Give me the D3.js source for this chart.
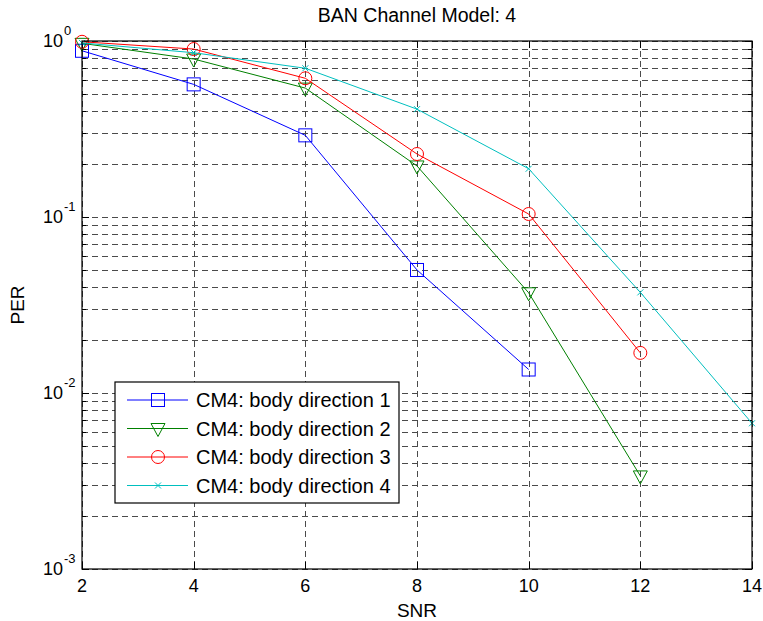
<!DOCTYPE html>
<html>
<head>
<meta charset="utf-8">
<script src="https://cdn.jsdelivr.net/npm/d3@7"></script>
<style>
  body { margin: 0; background: #fff; }
  text { font-family: "Liberation Sans", Arial, sans-serif; fill: #000; }
</style>
</head>
<body>
<script>
// data
let snr = [2, 4, 6, 8, 10, 12, 14];
let dir1 = [0.88, 0.567, 0.291, 0.050, 0.0136];
let dir2 = [0.97, 0.79, 0.54, 0.195, 0.0371, 0.00338];
let dir3 = [0.99, 0.90, 0.614, 0.228, 0.104, 0.0169];
let dir4 = [0.975, 0.858, 0.70, 0.41, 0.188, 0.0373, 0.00673];
let names = ['CM4: body direction 1', 'CM4: body direction 2', 'CM4: body direction 3', 'CM4: body direction 4'];
let xTicks = [2, 4, 6, 8, 10, 12, 14];
let yDecades = [-3, -2, -1, 0];

let width = 763, height = 621;
let margin = { top: 41, right: 11, bottom: 52, left: 82 };
let w = width - margin.left - margin.right;
let h = height - margin.top - margin.bottom;

let series = [
  { name: names[0], values: dir1, color: '#0000ff', marker: 'square' },
  { name: names[1], values: dir2, color: '#008000', marker: 'tri' },
  { name: names[2], values: dir3, color: '#ff0000', marker: 'circle' },
  { name: names[3], values: dir4, color: '#00bfbf', marker: 'cross' }
];

let svg = d3.select('body').append('svg')
    .attr('width', width)
    .attr('height', height)
  .append('g')
    .attr('transform', 'translate(' + margin.left + ',' + margin.top + ')');

let x = d3.scaleLinear().domain([2, 14]).range([0, w]);
let y = d3.scaleLog().domain([1e-3, 1]).range([h, 0]);

// grid values: 1..9 in every decade, plus the top one
let gridVals = [];
yDecades.slice(0, -1).forEach(function(k) {
  for (let m = 1; m <= 9; m++) gridVals.push(m * Math.pow(10, k));
});
gridVals.push(1);

let grid = svg.append('g').attr('class', 'grid')
    .attr('stroke', '#4a4a4a')
    .attr('stroke-width', 1)
    .attr('stroke-dasharray', '6,4')
    .attr('shape-rendering', 'crispEdges');

grid.selectAll('.hg').data(gridVals).enter().append('line')
    .attr('x1', 0).attr('x2', w)
    .attr('y1', function(d) { return Math.round(y(d)) + 0.5; })
    .attr('y2', function(d) { return Math.round(y(d)) + 0.5; });

grid.selectAll('.vg').data(xTicks).enter().append('line')
    .attr('y1', 0).attr('y2', h)
    .attr('x1', function(d) { return Math.round(x(d)) + 0.5; })
    .attr('x2', function(d) { return Math.round(x(d)) + 0.5; });

// ticks inside the box
let ticks = svg.append('g').attr('stroke', '#000').attr('stroke-width', 1)
    .attr('shape-rendering', 'crispEdges');
xTicks.forEach(function(d) {
  let px = Math.round(x(d)) + 0.5;
  ticks.append('line').attr('x1', px).attr('x2', px).attr('y1', h).attr('y2', h - 7);
  ticks.append('line').attr('x1', px).attr('x2', px).attr('y1', 0).attr('y2', 7);
});
gridVals.forEach(function(d) {
  let py = Math.round(y(d)) + 0.5;
  let major = Math.abs(Math.log10(d) - Math.round(Math.log10(d))) < 1e-9;
  let len = major ? 7 : 4;
  ticks.append('line').attr('x1', 0).attr('x2', len).attr('y1', py).attr('y2', py);
  ticks.append('line').attr('x1', w).attr('x2', w - len).attr('y1', py).attr('y2', py);
});

// x tick labels
svg.selectAll('.xl').data(xTicks).enter().append('text')
    .attr('x', function(d) { return x(d); })
    .attr('y', h + 23)
    .attr('text-anchor', 'middle')
    .style('font-size', '18px')
    .text(function(d) { return d; });

// y tick labels 10^k
let yl = svg.selectAll('.yl').data(yDecades).enter().append('g')
    .attr('transform', function(d) { return 'translate(0,' + y(Math.pow(10, d)) + ')'; });
yl.append('text')
    .attr('x', -19).attr('y', 6)
    .attr('text-anchor', 'end')
    .style('font-size', '18px')
    .text('10');
yl.append('text')
    .attr('x', -18).attr('y', -6)
    .style('font-size', '13px')
    .text(function(d) { return d; });

// lines and markers
let line = d3.line()
  .x(function(d, i) { return x(snr[i]); })
  .y(function(d) { return y(d); });

function drawMarker(g, type, color) {
  if (type === 'square') {
    g.append('rect').attr('x', -6.5).attr('y', -6.5).attr('width', 13).attr('height', 13)
      .attr('fill', 'none').attr('stroke', color);
  } else if (type === 'circle') {
    g.append('circle').attr('r', 6.5).attr('fill', 'none').attr('stroke', color);
  } else if (type === 'tri') {
    g.append('path').attr('d', 'M-7,-5L7,-5L0,8Z').attr('fill', 'none').attr('stroke', color);
  } else {
    g.append('path').attr('d', 'M-3,-3L3,3M-3,3L3,-3').attr('fill', 'none').attr('stroke', color);
  }
}

series.forEach(function(s) {
  svg.append('path')
      .datum(s.values)
      .attr('fill', 'none')
      .attr('stroke', s.color)
      .attr('stroke-width', 1)
      .attr('d', line);
  s.values.forEach(function(v, i) {
    let g = svg.append('g').attr('transform', 'translate(' + x(snr[i]) + ',' + y(v) + ')');
    drawMarker(g, s.marker, s.color);
  });
});

// box
svg.append('rect')
    .attr('x', 0).attr('y', 0).attr('width', w).attr('height', h)
    .attr('fill', 'none').attr('stroke', '#000').attr('stroke-width', 1.2);

// legend
let lg = svg.append('g').attr('transform', 'translate(' + (115 - margin.left) + ',' + (382 - margin.top) + ')');
lg.append('rect').attr('width', 284).attr('height', 121)
    .attr('fill', '#fff').attr('stroke', '#000').attr('stroke-width', 1.2);
series.forEach(function(s, i) {
  let row = lg.append('g').attr('transform', 'translate(0,' + (18 + i * 28.5) + ')');
  row.append('line').attr('x1', 12).attr('x2', 73).attr('y1', 0).attr('y2', 0)
      .attr('stroke', s.color).attr('stroke-width', 1);
  let m = row.append('g').attr('transform', 'translate(43,0)');
  drawMarker(m, s.marker, s.color);
  row.append('text').attr('x', 81).attr('y', 7)
      .style('font-size', '20px')
      .text(s.name);
});

// title and axis labels
svg.append('text')
    .attr('x', w / 2).attr('y', -19)
    .attr('text-anchor', 'middle')
    .style('font-size', '19.5px')
    .text('BAN Channel Model: 4');

svg.append('text')
    .attr('x', w / 2).attr('y', h + 48)
    .attr('text-anchor', 'middle')
    .style('font-size', '19px')
    .text('SNR');

svg.append('text')
    .attr('transform', 'translate(' + (24 - margin.left) + ',' + (h / 2) + ') rotate(-90)')
    .attr('text-anchor', 'middle')
    .style('font-size', '19px')
    .text('PER');
</script>
</body>
</html>
